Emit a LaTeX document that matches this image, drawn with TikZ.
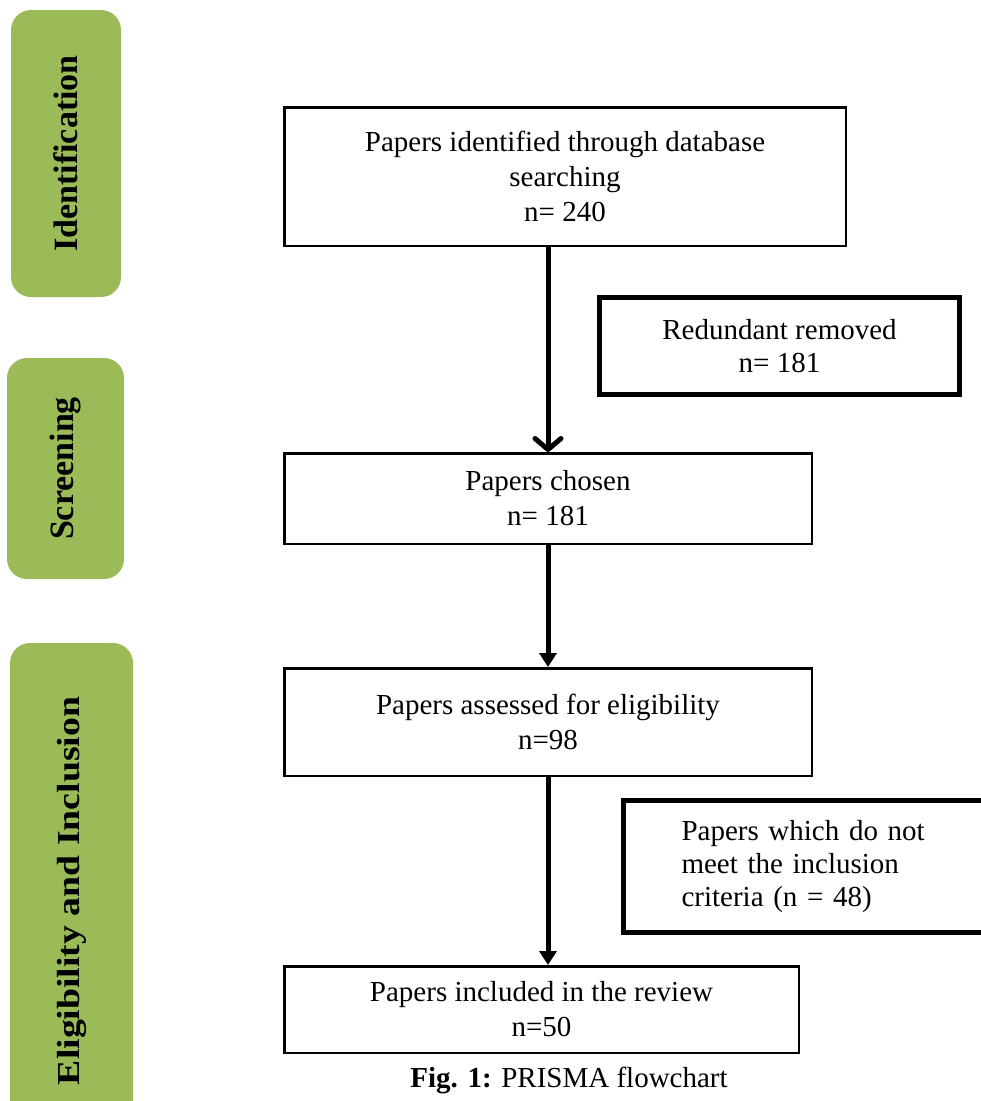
\documentclass[tikz,border=0pt]{standalone}
\usepackage{fontspec}
\setmainfont{Liberation Serif}
\usepackage{graphicx}
\usetikzlibrary{arrows.meta}
\definecolor{phase}{RGB}{155,187,89}
\begin{document}
\begin{tikzpicture}[x=1pt,y=-1pt,
  phasebox/.style={fill=phase, draw=none, rounded corners=20pt, rotate=90, inner sep=0pt,
    font=\bfseries\fontsize{34}{40}\selectfont},
  flowbox/.style={draw, line width=2.5pt, align=center, inner sep=0pt,
    font=\fontsize{29}{35}\selectfont},
  sidebox/.style={draw, line width=5pt, inner sep=0pt, font=\fontsize{29}{33}\selectfont},
  bigarrow/.style={line width=5pt, -{Straight Barb[length=11pt,width=26pt,round]}},
  smallarrow/.style={line width=5pt, -{Triangle[length=14pt,width=17pt]}}]
\useasboundingbox (0,0) rectangle (981,1101);

% phase labels
\node[phasebox, minimum width=287pt, minimum height=110pt] (ident) at (66,153.5) {Identification};
\node[phasebox, minimum width=221pt, minimum height=117pt] (screen) at (65.5,468.5) {Screening};
\node[phasebox, minimum width=496pt, minimum height=123pt, font=\bfseries\fontsize{32}{38}\selectfont] (elig) at (71.5,891) {\scalebox{1.18}[1]{Eligibility and Inclusion}};

% main flow
\node[flowbox, minimum width=561.5pt, minimum height=138.5pt] (box1) at (565,176.5)
  {Papers identified through database\\searching\\n= 240};
\node[flowbox, minimum width=527.5pt, minimum height=90.5pt] (box2) at (548,498.5)
  {Papers chosen\\n= 181};
\node[flowbox, minimum width=527.5pt, minimum height=107.5pt] (box3) at (548,722)
  {Papers assessed for eligibility\\n=98};
\node[flowbox, minimum width=514.5pt, minimum height=86.5pt] (box4) at (541.5,1009.5)
  {Papers included in the review\\n=50};

% side boxes
\node[sidebox, align=center, minimum width=360pt, minimum height=97pt] (red) at (779.5,346)
  {Redundant removed\\n= 181};
\node[sidebox, anchor=west, text width=290pt, inner xsep=58.5pt, minimum height=132pt] (excl) at (620.5,866.5)
  {\begin{tabular}{@{}l@{}}Papers which do not\\meet the inclusion\\criteria (n = 48)\end{tabular}};

% caption
\node[font=\fontsize{29}{35}\selectfont, inner sep=0pt] (cap) at (569,1080) {\textbf{Fig. 1:} PRISMA flowchart};

% connectors
\draw[bigarrow] (box1.south -| box2.north) -- (box2.north);
\draw[smallarrow] (box2.south) -- (box3.north);
\draw[smallarrow] (box3.south) -- (box4.north -| box3.south);
\end{tikzpicture}
\end{document}
